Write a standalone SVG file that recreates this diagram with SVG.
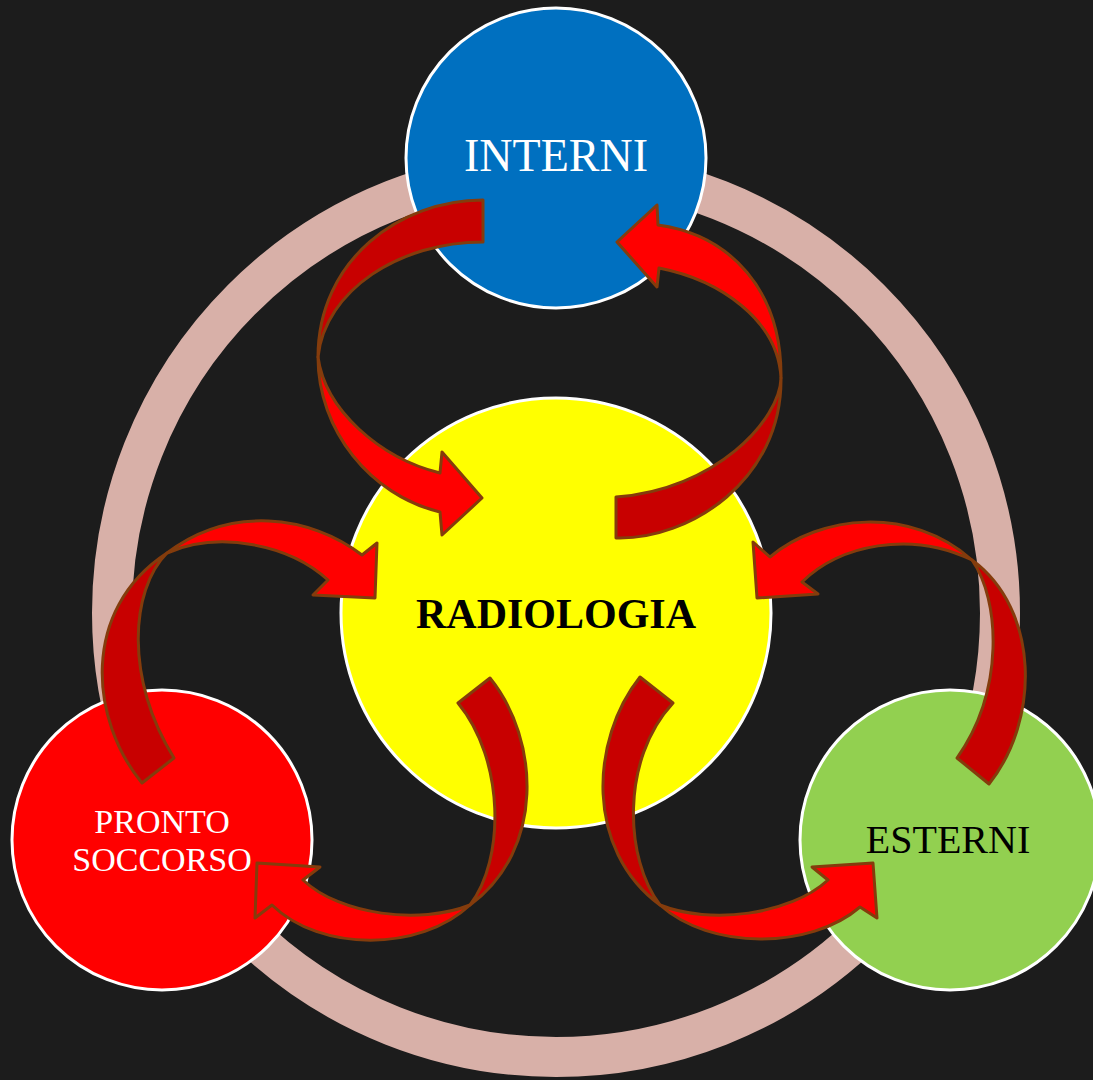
<svg xmlns="http://www.w3.org/2000/svg" width="1093" height="1080" viewBox="0 0 1093 1080">
<style>
.node{stroke:#ffffff;stroke-width:3}
.lbl{font-family:"Liberation Serif","Times New Roman",serif;text-anchor:middle}
.dk{fill:#c80000;stroke:#843c0c;stroke-width:3;stroke-linejoin:round}
.br{fill:#ff0000;stroke:#843c0c;stroke-width:3;stroke-linejoin:round}
</style>
<rect width="1093" height="1080" fill="#1c1c1c"/>
<circle id="ring" cx="556" cy="613" r="444" fill="none" stroke="#d8b0a8" stroke-width="40"/>
<g id="interni">
<circle class="node" cx="556" cy="158" r="150" fill="#0070c0"/>
<text class="lbl" x="556" y="171" font-size="46" fill="#ffffff">INTERNI</text>
</g>
<g id="radiologia">
<circle class="node" cx="556" cy="613" r="215" fill="#ffff00"/>
<text class="lbl" x="556" y="628" font-size="42" font-weight="bold" fill="#000000">RADIOLOGIA</text>
</g>
<g id="pronto-soccorso">
<circle class="node" cx="162" cy="840" r="150" fill="#ff0000"/>
<text class="lbl" x="162" y="833" font-size="34" fill="#ffffff">PRONTO</text>
<text class="lbl" x="162" y="871" font-size="34" fill="#ffffff">SOCCORSO</text>
</g>
<g id="esterni">
<circle class="node" cx="950" cy="840" r="150" fill="#92d050"/>
<text class="lbl" x="948" y="853" font-size="40" fill="#000000">ESTERNI</text>
</g>
<g id="connectors">
<g>
<path class="dk" d="M483,200 C400,200 318,260 318,357 C325,290 400,242 483,242 Z"/>
<path class="br" d="M318,357 C318,430 370,495 440,512 L442,535 L482,498 L442,452 L440,473 C380,458 325,410 318,357 Z"/>
</g>
<g>
<path class="dk" d="M616,538 C690,540 782,480 781,378 C780,420 715,490 616,497 Z"/>
<path class="br" d="M781,378 C782,290 730,235 658,225 L657,205 L617,242 L657,287 L659,268 C720,280 778,320 781,378 Z"/>
</g>
<g>
<path class="dk" d="M142,783 C90,720 80,610 167,553 C130,590 125,680 174,758 Z"/>
<path class="br" d="M167,553 C230,505 310,515 362,555 L377,543 L375,598 L313,595 L328,580 C290,545 220,530 167,553 Z"/>
</g>
<g>
<path class="dk" d="M989,784 C1040,720 1040,610 972,560 C1000,600 1005,690 957,758 Z"/>
<path class="br" d="M972,560 C910,505 820,515 770,557 L753,542 L757,598 L818,594 L802,582 C840,545 910,530 972,560 Z"/>
</g>
<g>
<path class="dk" d="M490,678 C540,740 545,850 470,905 C505,860 505,760 458,703 Z"/>
<path class="br" d="M470,905 C420,952 320,952 272,905 L255,918 L257,863 L320,867 L303,880 C340,915 420,925 470,905 Z"/>
</g>
<g>
<path class="dk" d="M640,677 C590,740 585,850 660,905 C625,860 620,760 673,703 Z"/>
<path class="br" d="M660,905 C710,950 810,950 860,907 L877,918 L873,863 L812,867 L828,880 C790,915 710,925 660,905 Z"/>
</g>
</g>
</svg>
